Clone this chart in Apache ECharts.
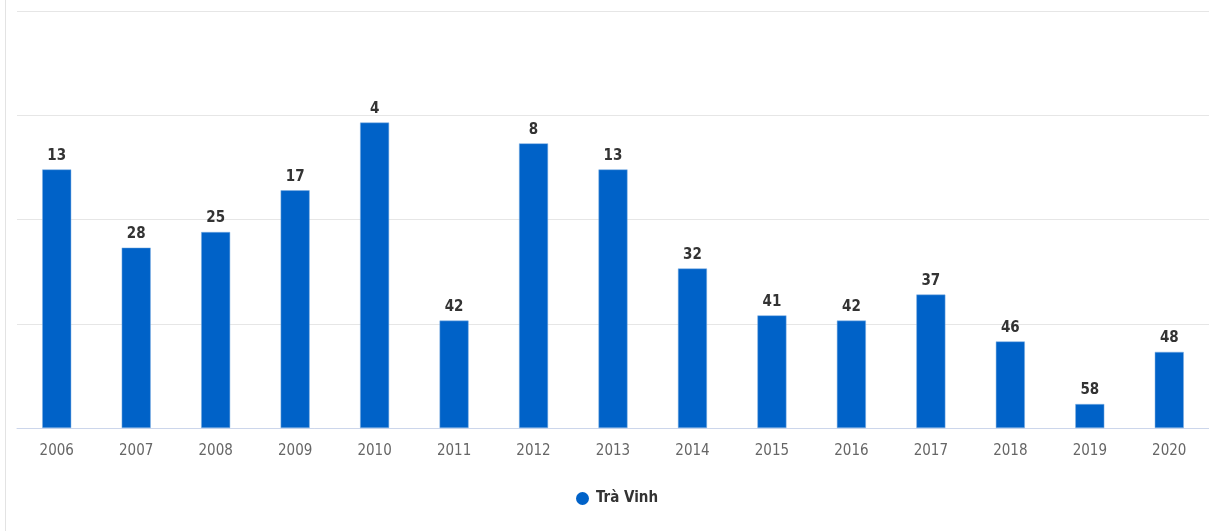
<!DOCTYPE html>
<html>
<head>
<meta charset="utf-8">
<title>Trà Vinh</title>
<script src="https://cdn.jsdelivr.net/npm/echarts@6/dist/echarts.min.js"></script>
<style>
    html, body { margin: 0; padding: 0; background: #fff; }
    #frame { position: absolute; left: 5px; top: 0; width: 1px; height: 531px; background: #e3e3e3; }
    #chart { width: 1209px; height: 531px; }
</style>
</head>
<body>
<div id="frame"></div>
<div id="chart"></div>
<script>
// năm
var years = ['2006', '2007', '2008', '2009', '2010', '2011', '2012', '2013', '2014', '2015', '2016', '2017', '2018', '2019', '2020'];
// thứ hạng PCI của Trà Vinh (trên 63 tỉnh)
var ranks = [13, 28, 25, 17, 4, 42, 8, 13, 32, 41, 42, 37, 46, 58, 48];
// cột càng cao thì thứ hạng càng tốt
var rankBase = 62.6;

var barValues = ranks.map(function (r) {
    return rankBase - r;
});

var condensed = '"DejaVu Sans Condensed", "Liberation Sans Narrow", Roboto, sans-serif';

var myChart = echarts.init(document.getElementById('chart'));

var option = {
    animation: false,
    grid: {
        left: 17,
        right: 0,
        top: 11,
        bottom: 103
    },
    legend: {
        data: ['Trà Vinh'],
        bottom: 20,
        left: 571,
        icon: 'circle',
        itemWidth: 13,
        itemHeight: 14,
        itemStyle: { borderWidth: 0 },
        textStyle: {
            fontFamily: condensed,
            fontWeight: 'bold',
            fontSize: 15,
            color: '#333',
            padding: [0, 0, 0, 2]
        }
    },
    xAxis: {
        type: 'category',
        data: years,
        axisTick: { show: false },
        axisLine: { lineStyle: { color: '#ccd6eb', width: 1 } },
        axisLabel: {
            margin: 16,
            color: '#666',
            fontSize: 15,
            fontFamily: condensed
        }
    },
    yAxis: {
        type: 'value',
        min: 0,
        max: 80,
        interval: 20,
        axisLabel: { show: false },
        axisLine: { show: false },
        axisTick: { show: false },
        splitLine: { lineStyle: { color: '#e6e6e6', width: 1 } }
    },
    series: [
        {
            name: 'Trà Vinh',
            type: 'bar',
            data: barValues,
            barWidth: 29,
            itemStyle: {
                color: '#0062c8',
                borderColor: '#7fb0e3',
                borderWidth: 0.5
            },
            label: {
                show: true,
                position: 'top',
                distance: 6,
                color: '#333',
                fontWeight: 'bold',
                fontSize: 15,
                fontFamily: condensed,
                formatter: function (p) {
                    return ranks[p.dataIndex];
                }
            }
        }
    ]
};

myChart.setOption(option);
</script>
</body>
</html>
